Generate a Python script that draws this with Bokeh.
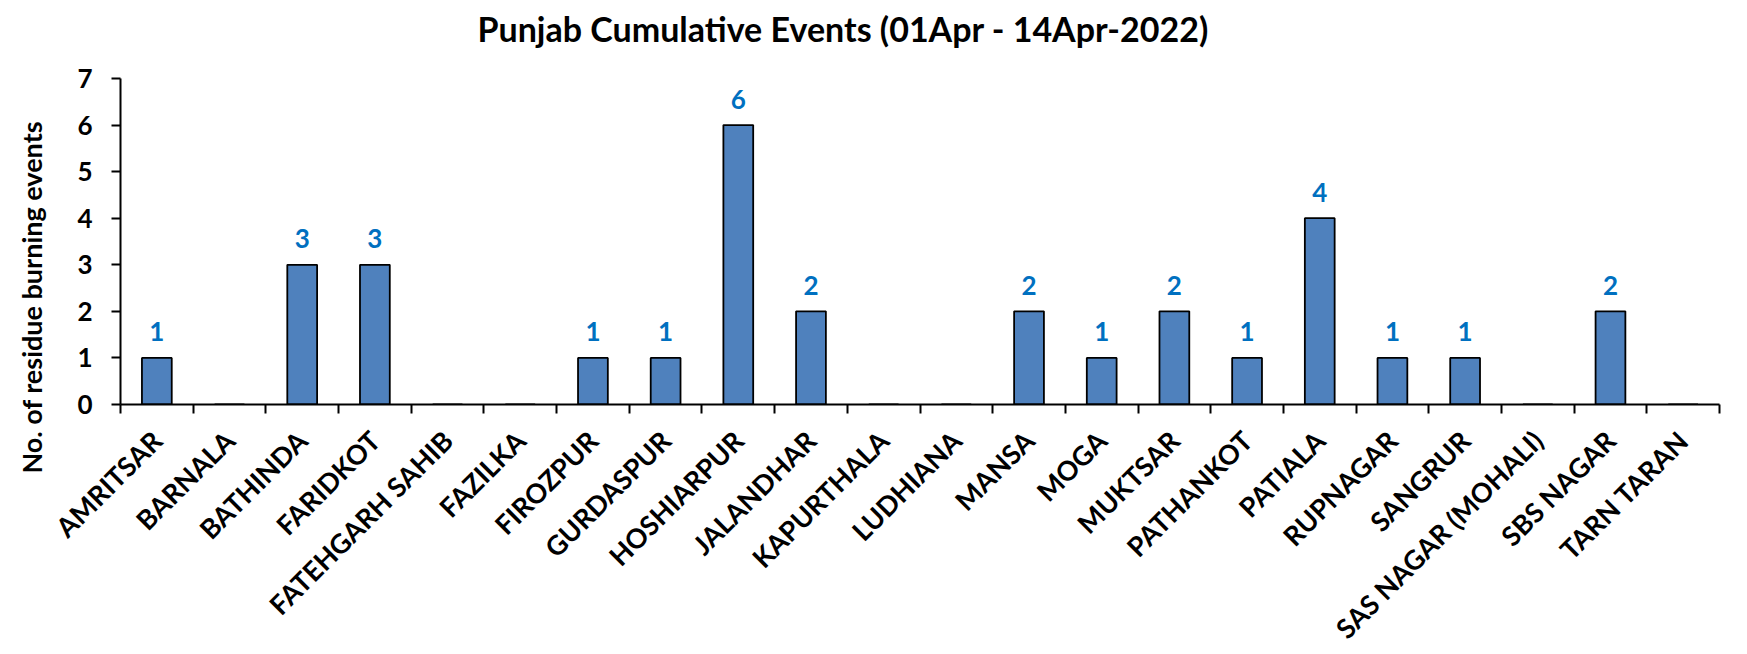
from bokeh.plotting import figure
from bokeh.models import ColumnDataSource, FixedTicker, Range1d, Title
from bokeh.core.properties import value
from bokeh.embed import file_html
from bokeh.resources import INLINE

districts = ["AMRITSAR", "BARNALA", "BATHINDA", "FARIDKOT", "FATEHGARH SAHIB", "FAZILKA",
             "FIROZPUR", "GURDASPUR", "HOSHIARPUR", "JALANDHAR", "KAPURTHALA", "LUDHIANA",
             "MANSA", "MOGA", "MUKTSAR", "PATHANKOT", "PATIALA", "RUPNAGAR", "SANGRUR",
             "SAS NAGAR (MOHALI)", "SBS NAGAR", "TARN TARAN"]
events = [1, 0, 3, 3, 0, 0, 1, 1, 6, 2, 0, 0, 2, 1, 2, 1, 4, 1, 1, 0, 2, 0]
y_ticks = [0, 1, 2, 3, 4, 5, 6, 7]
title_text = "Punjab Cumulative Events (01Apr - 14Apr-2022)"
y_label = "No. of residue burning events"

FONT = "Lato"
n = len(districts)
centers = [i + 0.5 for i in range(n)]

p = figure(width=1731, height=638, frame_width=1599, frame_height=326,
           output_backend="svg", toolbar_location=None, title=None,
           x_range=Range1d(0, n), y_range=Range1d(0, 7),
           min_border_left=120, min_border_right=12, min_border_top=74, min_border_bottom=10)

# spacer between title and frame (closest to the frame), then the title itself
p.add_layout(Title(text=" ", text_font_size="1px", standoff=22), "above")
p.add_layout(Title(text=title_text, align="left", offset=357, text_font=FONT,
                   text_font_size="34px", text_font_style="bold", text_color="black",
                   standoff=10), "above")

src = ColumnDataSource(dict(x=centers, top=events, name=districts))
p.vbar(x="x", top="top", width=0.41, source=src, fill_color="#4F81BD",
       line_color="black", line_width=1.8)

lab_x = [c for c, v in zip(centers, events) if v > 0]
lab_y = [v for v in events if v > 0]
lab_t = [str(v) for v in events if v > 0]
lsrc = ColumnDataSource(dict(x=lab_x, y=lab_y, t=lab_t))
p.text(x="x", y="y", text="t", source=lsrc, text_align="center", text_baseline="alphabetic",
       y_offset=-26, text_font=value(FONT), text_font_size="26px", text_font_style="bold",
       text_color="#0070C0")

p.grid.visible = False
p.outline_line_color = None

xa = p.xaxis[0]
xa.ticker = FixedTicker(ticks=centers, minor_ticks=list(range(n + 1)))
xa.major_label_overrides = {c: d for c, d in zip(centers, districts)}
xa.major_label_orientation = 0.785398
xa.major_tick_out = 0
xa.major_tick_in = 0
xa.minor_tick_out = 9
xa.minor_tick_in = 0
xa.minor_tick_line_color = "black"
xa.minor_tick_line_width = 2
xa.axis_line_width = 2
xa.axis_line_color = "black"
xa.major_label_text_font = FONT
xa.major_label_text_font_size = "27px"
xa.major_label_text_font_style = "bold"
xa.major_label_text_color = "black"
xa.major_label_standoff = 22

ya = p.yaxis[0]
ya.ticker = FixedTicker(ticks=y_ticks)
ya.minor_tick_line_color = None
ya.major_tick_out = 9
ya.major_tick_in = 0
ya.major_tick_line_width = 2
ya.axis_line_width = 2
ya.axis_line_color = "black"
ya.major_label_text_font = FONT
ya.major_label_text_font_size = "26px"
ya.major_label_text_font_style = "bold"
ya.major_label_text_color = "black"
ya.major_label_standoff = 19
# trailing no-break spaces move the centred title a little lower, as in the reference
ya.axis_label = y_label + "\u00a0" * 17
ya.axis_label_text_font = FONT
ya.axis_label_text_font_size = "27px"
ya.axis_label_text_font_style = "bold"
ya.axis_label_text_color = "black"
ya.axis_label_standoff = 26

open("out.html", "w").write(file_html(p, INLINE))
